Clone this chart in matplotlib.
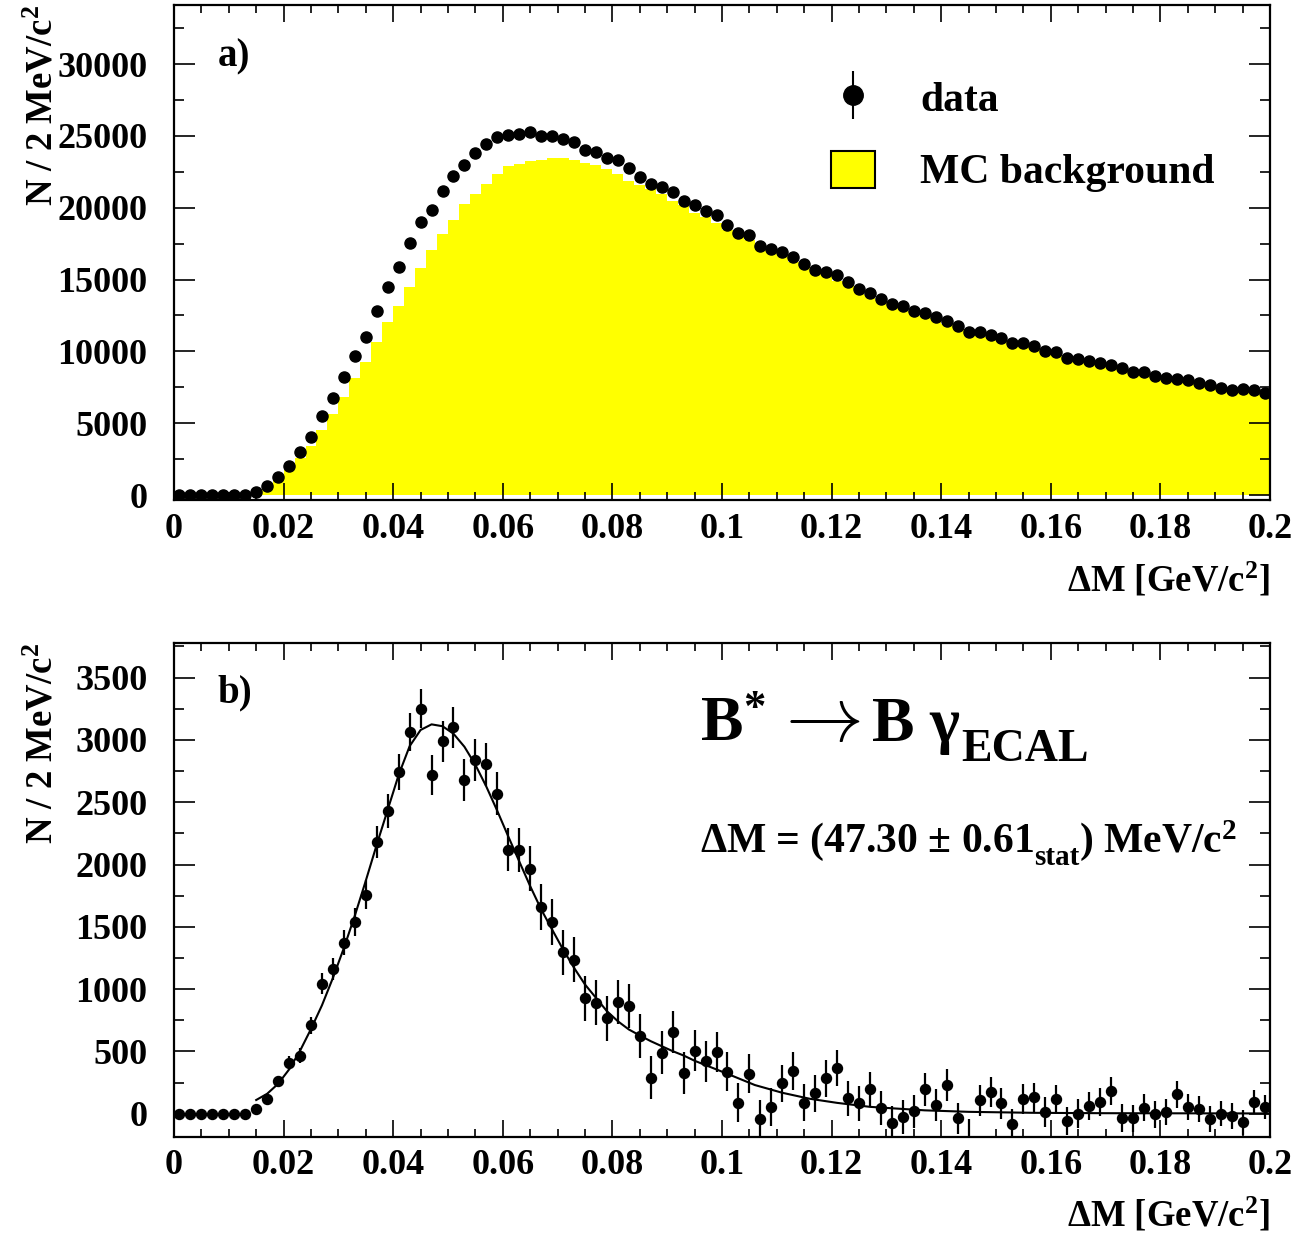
import numpy as np
import matplotlib
matplotlib.use("Agg")
import matplotlib.pyplot as plt
from matplotlib.ticker import MultipleLocator, FixedLocator, FixedFormatter
from matplotlib.lines import Line2D
from matplotlib.patches import Patch
from matplotlib.legend_handler import HandlerTuple

plt.rcParams['font.family'] = ['Liberation Serif', 'DejaVu Serif']
plt.rcParams['font.weight'] = 'bold'
plt.rcParams['axes.labelweight'] = 'bold'
plt.rcParams['mathtext.fontset'] = 'custom'
plt.rcParams['mathtext.rm'] = 'Liberation Serif:bold'
plt.rcParams['mathtext.bf'] = 'Liberation Serif:bold'
plt.rcParams['mathtext.it'] = 'Liberation Serif:bold:italic'
plt.rcParams['mathtext.default'] = 'rm'
plt.rcParams['mathtext.fallback'] = 'stix'

# ---------------- data ----------------
bin_low = 0.0
bin_high = 0.2
n_bins = 100

# panel a) data counts per bin
data_top = [
    0, 0, 0, 0, 0, 0, 20, 230, 627, 1274,
    2040, 2974, 4039, 5502, 6734, 8197, 9680, 11003, 12793, 14485,
    15899, 17529, 18991, 19812, 21191, 22236, 22981, 23796, 24444, 24910,
    25050, 25140, 25259, 25001, 25001, 24771, 24562, 24026, 23866, 23490,
    23309, 22773, 22167, 21637, 21428, 21080, 20495, 20175, 19778, 19464,
    18782, 18246, 18086, 17362, 17132, 16944, 16596, 16066, 15669, 15551,
    15300, 14813, 14367, 14089, 13629, 13302, 13162, 12814, 12675, 12375,
    12117, 11790, 11372, 11330, 11142, 10954, 10606, 10585, 10397, 10007,
    9979, 9562, 9450, 9353, 9213, 9032, 8844, 8587, 8587, 8308,
    8169, 8078, 8009, 7779, 7660, 7473, 7333, 7382, 7312, 7124,
]

# panel a) MC background per bin
mc_bkg = [
    0, 0, 0, 0, 0, 0, 0, 60, 460, 1040,
    1740, 2550, 3400, 4510, 5630, 6830, 8170, 9280, 10620, 12080,
    13170, 14490, 15800, 17080, 18170, 19170, 20260, 20950, 21650, 22340,
    22900, 23040, 23260, 23360, 23450, 23450, 23330, 23150, 22990, 22690,
    22380, 21880, 21580, 21300, 20950, 20490, 20165, 19670, 19358, 18969,
    18445, 18158, 17765, 17407, 17076, 16701, 16254, 15978, 15506, 15268,
    14931, 14690, 14284, 13894, 13581, 13374, 13189, 12793, 12480, 12306,
    11887, 11827, 11587, 11223, 10968, 10871, 10686, 10470, 10266, 9994,
    9864, 9621, 9450, 9292, 9120, 8850, 8881, 8624, 8539, 8313,
    8156, 7923, 7953, 7739, 7705, 7473, 7352, 7449, 7219, 7068,
]

# panel b) background-subtracted counts and errors
signal = [
    0, 0, 0, 0, 0, 0, 0, 40, 120, 261,
    408, 467, 708, 1045, 1163, 1374, 1540, 1759, 2182, 2433,
    2746, 3065, 3252, 2722, 2990, 3100, 2680, 2840, 2805, 2570,
    2120, 2115, 1965, 1660, 1540, 1295, 1235, 925, 890, 765,
    895, 865, 625, 290, 490, 655, 330, 505, 420, 495,
    337, 88, 321, -45, 56, 243, 342, 88, 163, 283,
    369, 123, 83, 195, 48, -72, -27, 21, 195, 69,
    230, -37, -235, 107, 174, 83, -80, 115, 131, 13,
    115, -59, 0, 61, 93, 182, -37, -37, 48, -5,
    13, 155, 56, 40, -45, 0, -19, -67, 93, 56,
]
signal_err = [
    0, 0, 0, 0, 0, 0, 0, 15, 30, 45,
    55, 62, 72, 86, 90, 104, 110, 120, 127, 136,
    144, 153, 156, 160, 164, 168, 170, 171, 172, 174,
    176, 178, 180, 182, 182, 182, 181, 180, 180, 179,
    178, 176, 175, 174, 172, 170, 168, 166, 164, 160,
    158, 157, 155, 154, 152, 151, 150, 148, 147, 146,
    144, 142, 141, 140, 138, 136, 134, 132, 130, 128,
    127, 126, 195, 124, 123, 122, 121, 120, 119, 118,
    116, 115, 114, 113, 112, 112, 111, 110, 109, 108,
    107, 106, 105, 104, 103, 102, 101, 100, 99, 98,
]

# panel b) fit curve
fit_x = [0.015, 0.017, 0.019, 0.021, 0.023, 0.025, 0.027, 0.029, 0.031, 0.033,
         0.035, 0.037, 0.039, 0.041, 0.043, 0.045, 0.047, 0.049, 0.051, 0.053,
         0.055, 0.057, 0.059, 0.061, 0.063, 0.065, 0.067, 0.069, 0.071, 0.073,
         0.075, 0.077, 0.079, 0.081, 0.083, 0.085, 0.087, 0.089, 0.091, 0.093,
         0.095, 0.097, 0.099, 0.101, 0.106, 0.111, 0.116, 0.121, 0.127, 0.133,
         0.137, 0.145, 0.157, 0.170, 0.185, 0.200]
fit_y = [110, 160, 240, 355, 505, 680, 870, 1090, 1330, 1590,
         1870, 2160, 2440, 2720, 2950, 3080, 3125, 3110, 3050, 2945,
         2800, 2625, 2430, 2225, 2025, 1826, 1640, 1478, 1318, 1171,
         1037, 930, 823, 742, 676, 628, 582, 542, 502, 467,
         425, 390, 355, 320, 230, 168, 120, 87, 55, 38,
         27, 15, 7, 4, 3, 2]

x_ticks = [0.0, 0.02, 0.04, 0.06, 0.08, 0.10, 0.12, 0.14, 0.16, 0.18, 0.20]
x_tick_labels = ["0", "0.02", "0.04", "0.06", "0.08", "0.1", "0.12", "0.14",
                 "0.16", "0.18", "0.2"]
top_y_ticks = [0, 5000, 10000, 15000, 20000, 25000, 30000]
top_y_tick_labels = ["0", "5000", "10000", "15000", "20000", "25000", "30000"]
bot_y_ticks = [0, 500, 1000, 1500, 2000, 2500, 3000, 3500]
bot_y_tick_labels = ["0", "500", "1000", "1500", "2000", "2500", "3000", "3500"]

legend_labels = ["data", "MC background"]
y_title = r"N / 2 MeV/c$^{2}$"
x_title = r"$\Delta$M [GeV/c$^{2}$]"

# ---------------- figure ----------------
W, H = 1301, 1233
fig = plt.figure(figsize=(W / 100, H / 100), dpi=100)

def fx(px):
    return px / W

def fy(py):
    return 1 - py / H

ax1 = fig.add_axes([fx(174), fy(500), fx(1270) - fx(174), fy(5) - fy(500)])
ax2 = fig.add_axes([fx(174), fy(1137), fx(1270) - fx(174), fy(643) - fy(1137)])

edges = np.linspace(bin_low, bin_high, n_bins + 1)
centers = 0.5 * (edges[:-1] + edges[1:])

yellow = "#ffff00"

# panel a
ax1.stairs(mc_bkg, edges, fill=True, color=yellow, linewidth=0)
ax1.plot(centers, data_top, 'o', color='k', ms=8, ls='none', zorder=3)
ax1.set_xlim(bin_low, bin_high)
ax1.set_ylim(-348, 34120)

# panel b
ax2.errorbar(centers, signal, yerr=signal_err, fmt='o', color='k', ms=7.2,
             elinewidth=1.6, capsize=0, zorder=3)
ax2.plot(fit_x, fit_y, color='k', lw=1.5, zorder=2)
ax2.set_xlim(bin_low, bin_high)
ax2.set_ylim(-187, 3778)

for ax, yt, ytl, yminor in [(ax1, top_y_ticks, top_y_tick_labels, 2500),
                             (ax2, bot_y_ticks, bot_y_tick_labels, 250)]:
    ax.xaxis.set_major_locator(FixedLocator(x_ticks))
    ax.xaxis.set_major_formatter(FixedFormatter(x_tick_labels))
    ax.xaxis.set_minor_locator(MultipleLocator(0.005))
    ax.yaxis.set_major_locator(FixedLocator(yt))
    ax.yaxis.set_major_formatter(FixedFormatter(ytl))
    ax.yaxis.set_minor_locator(MultipleLocator(yminor))
    ax.tick_params(axis='both', which='both', direction='in', top=True,
                   right=True, width=1.2, labelsize=26)
    ax.tick_params(axis='x', which='major', length=12, pad=9)
    ax.tick_params(axis='x', which='minor', length=6)
    ax.tick_params(axis='y', which='major', length=15, pad=19)
    ax.tick_params(axis='y', which='minor', length=7.5)
    for s in ax.spines.values():
        s.set_linewidth(1.6)
    ax.set_ylabel(y_title, fontsize=26.5, loc='top', fontweight='bold')
    ax.yaxis.set_label_coords(-0.104, 1.0)
    ax.set_xlabel(x_title, fontsize=26.5, loc='right', fontweight='bold')

ax1.xaxis.set_label_coords(1.0, -0.125)
ax2.xaxis.set_label_coords(1.0, -0.120)

# panel labels
ax1.text(0.040, 0.895, "a)", transform=ax1.transAxes, fontsize=28,
         ha='left', va='center')
ax2.text(0.040, 0.899, "b)", transform=ax2.transAxes, fontsize=28,
         ha='left', va='center')

# legend
h_data = (Line2D([], [], marker='|', ms=34, mew=1.5, color='k', ls='none'),
          Line2D([], [], marker='o', ms=14, color='k', ls='none'))
h_mc = Patch(facecolor=yellow, edgecolor='k', linewidth=1.5)
ax1.legend([h_data, h_mc], legend_labels, loc='upper left',
           bbox_to_anchor=(0.5995, 0.852), frameon=False, fontsize=30,
           handlelength=1.055, handleheight=0.98, handletextpad=1.08,
           labelspacing=0.74, borderpad=0, borderaxespad=0, numpoints=1,
           handler_map={tuple: HandlerTuple(ndivide=1)})

# panel b annotations: "B* -> B gamma_ECAL"
y_base = 0.8016
ax2.text(0.480, y_base, r"B$^{*}$", transform=ax2.transAxes, fontsize=46,
         ha='left', va='baseline')
ax2.text(0.5456, y_base, r"$\rightarrow$", transform=ax2.transAxes,
         fontsize=56, ha='left', va='baseline', math_fontfamily='cm')
ax2.text(0.637, y_base, "B", transform=ax2.transAxes, fontsize=46,
         ha='left', va='baseline')
ax2.text(0.689, y_base, r"$\gamma$", transform=ax2.transAxes, fontsize=46,
         ha='left', va='baseline')
ax2.text(0.718, 0.761, "ECAL", transform=ax2.transAxes, fontsize=33,
         ha='left', va='baseline')

# "Delta M = (47.30 +- 0.61_stat) MeV/c^2"
t_dm = ax2.text(0.48, 0.577, r"$\Delta$M = (47.30 $\pm$ 0.61",
                transform=ax2.transAxes, fontsize=30, ha='left',
                va='baseline')
t_stat = ax2.annotate("stat", xy=(1.0, 0.0), xycoords=t_dm, xytext=(0, -6),
                      textcoords='offset points', fontsize=21, ha='left',
                      va='bottom')
ax2.annotate(r") MeV/c$^{2}$", xy=(1.0, 0.0), xycoords=t_stat,
             xytext=(0, 6), textcoords='offset points', fontsize=30,
             ha='left', va='bottom')

fig.savefig("out.png", dpi=100)
